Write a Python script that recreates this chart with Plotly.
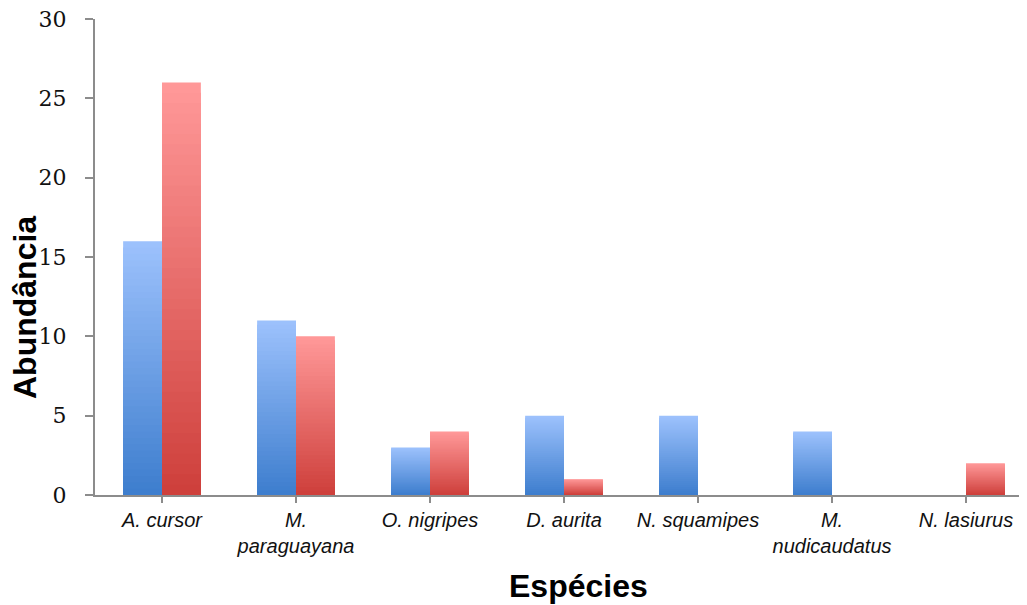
import plotly.graph_objects as go

categories = ["<i>A. cursor</i>", "<i>M.<br>paraguayana</i>", "<i>O. nigripes</i>", "<i>D. aurita</i>",
              "<i>N. squamipes</i>", "<i>M.<br>nudicaudatus</i>", "<i>N. lasiurus</i>"]
blue_values = [16, 11, 3, 5, 5, 4, 0]
red_values = [26, 10, 4, 1, 0, 0, 2]
y_ticks = [0, 5, 10, 15, 20, 25, 30]

blue_top, blue_bottom = (156, 193, 252), (62, 126, 206)
red_top, red_bottom = (255, 152, 152), (206, 64, 60)

N_STEPS = 40
BAR_W = 0.29

# page body has an 8px margin; figure sized to fit the 1027x605 window
PAGE_OFF = 8
FIG_W, FIG_H = 1027 - PAGE_OFF, 605 - PAGE_OFF
L, T = 95 - PAGE_OFF, 19 - PAGE_OFF
B = FIG_H - (495 - PAGE_OFF)
PLOT_W = FIG_W - L
PLOT_H = FIG_H - T - B


def mix(c1, c2, t):
    return "rgb(%d,%d,%d)" % tuple(round(a + (b - a) * t) for a, b in zip(c1, c2))


fig = go.Figure()
x_idx = list(range(len(categories)))
for values, top, bottom, offset in [(blue_values, blue_top, blue_bottom, -BAR_W),
                                    (red_values, red_top, red_bottom, 0.0)]:
    for k in range(N_STEPS):
        frac = (N_STEPS - k) / N_STEPS
        fig.add_trace(go.Bar(
            x=x_idx,
            y=[v * frac for v in values],
            width=BAR_W,
            offset=offset,
            marker=dict(color=mix(top, bottom, k / (N_STEPS - 1)), line=dict(width=0)),
            showlegend=False,
            hoverinfo="skip",
        ))

fig.update_layout(
    barmode="overlay",
    width=FIG_W, height=FIG_H,
    margin=dict(l=L, r=0, t=T, b=B),
    plot_bgcolor="white", paper_bgcolor="white",
    xaxis=dict(
        range=[-0.5, -0.5 + PLOT_W / 134],
        tickmode="array", tickvals=x_idx, ticktext=categories,
        showline=True, linecolor="#8c8c8c", linewidth=2,
        ticks="outside", ticklen=6, tickcolor="#8c8c8c", tickwidth=2,
        tickson="boundaries", showgrid=False, zeroline=False,
        tickfont=dict(family="Liberation Sans, Arial", size=20, color="#111"),
        ticklabeloverflow="allow",
    ),
    yaxis=dict(
        range=[0, 30], tickvals=y_ticks,
        showline=True, linecolor="#8c8c8c", linewidth=2,
        ticks="outside", ticklen=8, tickcolor="#8c8c8c", tickwidth=2,
        showgrid=False, zeroline=False,
        tickfont=dict(family="DejaVu Serif, Liberation Serif", size=22, color="#111"),
        ticklabelstandoff=14,
        ticklabeloverflow="allow",
    ),
    annotations=[
        dict(text="<b>Abundância</b>", xref="paper", yref="paper",
             x=(25 - 95) / PLOT_W, y=(495 - 308) / PLOT_H,
             textangle=-90, showarrow=False, xanchor="center", yanchor="middle",
             font=dict(family="Liberation Sans, Arial", size=32, color="#000")),
        dict(text="<b>Espécies</b>", xref="paper", yref="paper",
             x=(578 - 95) / PLOT_W, y=(495 - 586) / PLOT_H,
             showarrow=False, xanchor="center", yanchor="middle",
             font=dict(family="Liberation Sans, Arial", size=32, color="#000")),
    ],
)

fig.write_html("out.html")
